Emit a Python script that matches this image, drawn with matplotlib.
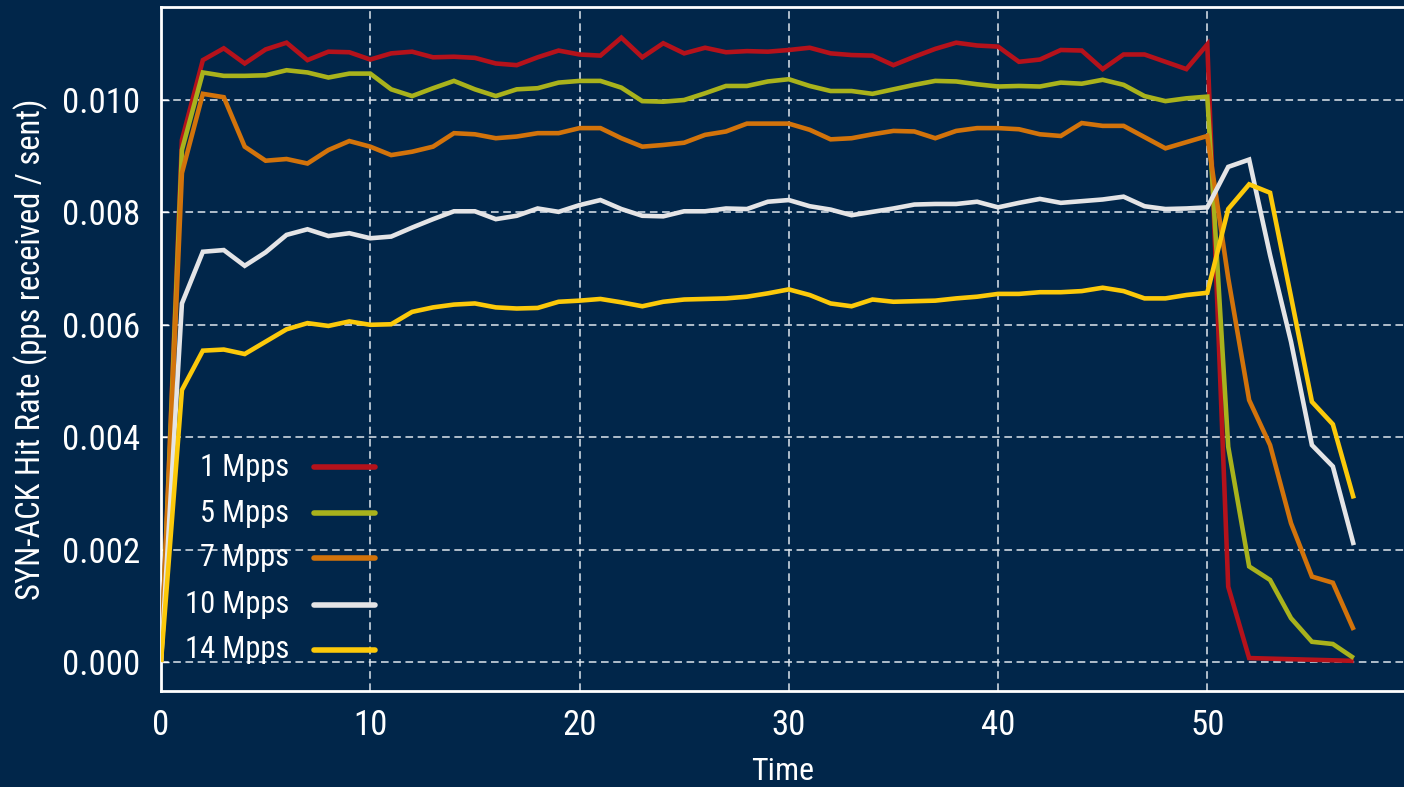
import matplotlib
matplotlib.use("Agg")
import matplotlib.pyplot as plt
from matplotlib import font_manager

# ---- data -------------------------------------------------------------
time = list(range(58))

rate_1mpps = [0.0, 0.00929, 0.01071, 0.01092, 0.01065, 0.01090, 0.01102, 0.01071,
              0.01086, 0.01085, 0.01072, 0.01083, 0.01086, 0.01076, 0.01077, 0.01075,
              0.01065, 0.01062, 0.01076, 0.01088, 0.01081, 0.01079, 0.01111, 0.01076,
              0.01101, 0.01083, 0.01093, 0.01085, 0.01087, 0.01086, 0.01089, 0.01093,
              0.01083, 0.01080, 0.01079, 0.01062, 0.01077, 0.01091, 0.01102, 0.01097,
              0.01095, 0.01068, 0.01072, 0.01089, 0.01088, 0.01055, 0.01081, 0.01081,
              0.01068, 0.01055, 0.01099, 0.00134, 0.00007, 0.00006, 0.00005, 0.00004,
              0.00003, 0.00002]

rate_5mpps = [0.0, 0.00911, 0.01049, 0.01043, 0.01043, 0.01044, 0.01053, 0.01049,
              0.01040, 0.01047, 0.01047, 0.01019, 0.01007, 0.01021, 0.01034, 0.01019,
              0.01007, 0.01019, 0.01021, 0.01031, 0.01034, 0.01034, 0.01022, 0.00998,
              0.00997, 0.01000, 0.01012, 0.01025, 0.01025, 0.01033, 0.01037, 0.01025,
              0.01016, 0.01016, 0.01011, 0.01019, 0.01027, 0.01034, 0.01033, 0.01028,
              0.01024, 0.01025, 0.01024, 0.01031, 0.01029, 0.01036, 0.01027, 0.01007,
              0.00998, 0.01003, 0.01006, 0.00383, 0.00170, 0.00146, 0.00078, 0.00036,
              0.00032, 0.00007]

rate_7mpps = [0.0, 0.00870, 0.01011, 0.01005, 0.00917, 0.00892, 0.00895, 0.00887,
              0.00911, 0.00927, 0.00917, 0.00902, 0.00908, 0.00917, 0.00941, 0.00939,
              0.00932, 0.00935, 0.00941, 0.00941, 0.00950, 0.00950, 0.00932, 0.00917,
              0.00920, 0.00924, 0.00938, 0.00944, 0.00958, 0.00958, 0.00958, 0.00947,
              0.00930, 0.00932, 0.00939, 0.00945, 0.00944, 0.00932, 0.00945, 0.00950,
              0.00950, 0.00948, 0.00939, 0.00936, 0.00959, 0.00954, 0.00954, 0.00934,
              0.00914, 0.00925, 0.00936, 0.00683, 0.00466, 0.00386, 0.00247, 0.00152,
              0.00141, 0.00057]

rate_10mpps = [0.0, 0.00638, 0.00730, 0.00733, 0.00705, 0.00729, 0.00760, 0.00770,
               0.00758, 0.00763, 0.00754, 0.00757, 0.00773, 0.00788, 0.00802, 0.00802,
               0.00788, 0.00794, 0.00807, 0.00801, 0.00813, 0.00822, 0.00806, 0.00794,
               0.00793, 0.00802, 0.00802, 0.00807, 0.00806, 0.00819, 0.00822, 0.00811,
               0.00805, 0.00795, 0.00801, 0.00807, 0.00814, 0.00815, 0.00815, 0.00819,
               0.00809, 0.00817, 0.00824, 0.00817, 0.00820, 0.00823, 0.00828, 0.00811,
               0.00806, 0.00807, 0.00809, 0.00881, 0.00894, 0.00724, 0.00570, 0.00386,
               0.00348, 0.00208]

rate_14mpps = [0.0, 0.00484, 0.00554, 0.00556, 0.00548, 0.00570, 0.00592, 0.00603,
               0.00598, 0.00606, 0.00600, 0.00601, 0.00623, 0.00631, 0.00636, 0.00638,
               0.00631, 0.00629, 0.00630, 0.00641, 0.00643, 0.00646, 0.00640, 0.00633,
               0.00641, 0.00645, 0.00646, 0.00647, 0.00650, 0.00656, 0.00663, 0.00653,
               0.00638, 0.00633, 0.00645, 0.00641, 0.00642, 0.00643, 0.00647, 0.00650,
               0.00655, 0.00655, 0.00658, 0.00658, 0.00660, 0.00666, 0.00660, 0.00647,
               0.00647, 0.00653, 0.00657, 0.00806, 0.00850, 0.00835, 0.00650, 0.00463,
               0.00423, 0.00291]

series_labels = ["1 Mpps", "5 Mpps", "7 Mpps", "10 Mpps", "14 Mpps"]
series_values = [rate_1mpps, rate_5mpps, rate_7mpps, rate_10mpps, rate_14mpps]
series_colors = ["#b5121b", "#a9b21c", "#d2730b", "#e4e4e6", "#fcc90a"]

x_ticks = [0, 10, 20, 30, 40, 50]
y_ticks = [0.000, 0.002, 0.004, 0.006, 0.008, 0.010]

# ---- style ------------------------------------------------------------
bg = "#01264a"
fg = "#ffffff"
names = {f.name for f in font_manager.fontManager.ttflist}
family = [f for f in ["Roboto Condensed", "Roboto", "DejaVu Sans"] if f in names]
plt.rcParams["font.family"] = family

fig = plt.figure(figsize=(14.04, 7.87), dpi=100, facecolor=bg)
ax = fig.add_axes([161 / 1404, 96 / 787, 1 - 161 / 1404, (691 - 7) / 787])
ax.set_facecolor(bg)

lines = []
for vals, col in zip(series_values, series_colors):
    ln, = ax.plot(time, vals, color=col, lw=3.3, solid_joinstyle="miter",
                  solid_capstyle="butt", zorder=3)
    lines.append(ln)

ax.set_xlim(0, 59.4)
ax.set_ylim(-0.000516, 0.011655)
ax.set_xticks(x_ticks)
ax.set_yticks(y_ticks)
ax.set_yticklabels([f"{v:.3f}" for v in y_ticks])

ax.grid(True, color="#dfe6ee", lw=1.1, ls=(0, (5, 3)), zorder=1)
ax.tick_params(axis="both", colors=fg, labelsize=25, direction="in",
               length=6, width=1)
ax.tick_params(axis="y", pad=15)
ax.tick_params(axis="x", pad=13, length=0)

for side in ("left", "top", "bottom"):
    ax.spines[side].set_color(fg)
    ax.spines[side].set_linewidth(2)
ax.spines["right"].set_visible(False)

ax.set_xlabel("Time", color=fg, fontsize=23, labelpad=11)
ax.set_ylabel("SYN-ACK Hit Rate (pps received / sent)", color=fg,
              fontsize=23.5, labelpad=10)

# legend: right-aligned labels followed by line samples
row_y = [0.327, 0.260, 0.195, 0.126, 0.060]
for ln, label, yy in zip(lines, series_labels, row_y):
    ax.text(0.103, yy, label, transform=ax.transAxes, ha="right", va="center",
            color=fg, fontsize=22, zorder=4)
    ax.plot([0.1233, 0.1723], [yy, yy], transform=ax.transAxes,
            color=ln.get_color(), lw=4, solid_capstyle="round", zorder=4)

fig.savefig("out.png", dpi=100, facecolor=bg)
